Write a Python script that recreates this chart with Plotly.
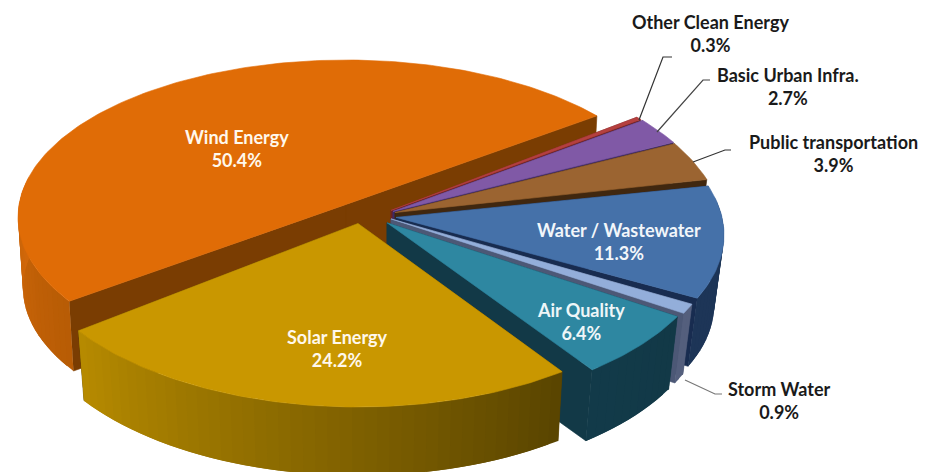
import math
import plotly.graph_objects as go

# ---------- data ----------
categories = ["Wind Energy", "Other Clean Energy", "Basic Urban Infra.", "Public transportation",
              "Water / Wastewater", "Storm Water", "Air Quality", "Solar Energy"]
values = [50.4, 0.3, 2.7, 3.9, 11.3, 0.9, 6.4, 24.2]

# ---------- style ----------
TOP = ["#E06C06", "#B5403F", "#8059A6", "#9B6431", "#4571A9", "#93AEDA", "#2E87A1", "#C99700"]
SIDE = ["#7A3D02", "#6D2222", "#3E2A66", "#40270F", "#182C50", "#4C5876", "#123947", "#5A4300"]
WALL_A = ["#B85C05", "#6D2222", "#5A3F80", "#6E4520", "#1D3557", "#545F7D", "#123947", "#5A4500"]
WALL_B = ["#D2680A", "#6D2222", "#5A3F80", "#6E4520", "#1D3557", "#545F7D", "#123A49", "#B68A00"]

# ---------- 3-D look: ellipse of each exploded slice, in pixels ----------
CX = [346, 391, 393, 395, 396, 391, 387, 358]
CY = [217, 229, 230, 232, 235, 237, 238, 233]
RX = [328, 328, 328, 328, 328, 328, 328, 338]
RY = [157, 169, 169, 169, 160, 169, 169, 174]
PERSP = [-0.08, -0.11, -0.11, -0.115, -0.11, -0.107, -0.09, -0.055]
DEPTH = [71, 70, 70, 70, 70, 72, 75, 72]
BOTTOM_SCALE = [0.985, 0.97, 0.97, 0.97, 0.97, 0.97, 0.97, 0.98]
WIND_END_DEG = -36.5                    # where the first slice ends, clockwise on screen
TWEAK_A0 = [1.5, 0, 0, 0, 0, 0, 0, -0.5]    # small visual corrections to the slice edges, degrees
TWEAK_A1 = [0, 0, 0, 0, 0, 0, -0.8, 1.0]


def project(i, theta, r=1.0, bottom=False):
    s = PERSP[i]
    u, v = r * math.cos(theta), r * math.sin(theta)
    d = 1 + s * v
    xn = u * math.sqrt(1 - s * s) / d
    yn = (v + s) / d
    scale = BOTTOM_SCALE[i] if bottom else 1.0
    return (CX[i] + RX[i] * scale * xn,
            CY[i] + (DEPTH[i] if bottom else 0) + RY[i] * scale * yn)


def mix(a, b, t):
    ca = [int(a[k:k + 2], 16) for k in (1, 3, 5)]
    cb = [int(b[k:k + 2], 16) for k in (1, 3, 5)]
    return "#%02X%02X%02X" % tuple(round(x + (y - x) * t) for x, y in zip(ca, cb))


fig = go.Figure()


def poly(points, color, width=0.6):
    xs = [p[0] for p in points] + [points[0][0]]
    ys = [p[1] for p in points] + [points[0][1]]
    fig.add_trace(go.Scatter(x=xs, y=ys, mode="lines", fill="toself", fillcolor=color,
                             line=dict(color=color, width=width), hoverinfo="skip", showlegend=False))


total = sum(values)
angle = math.radians(WIND_END_DEG) - 2 * math.pi * values[0] / total
for i, val in enumerate(values):
    a0 = angle + math.radians(TWEAK_A0[i])
    angle += 2 * math.pi * val / total
    a1 = angle + math.radians(TWEAK_A1[i])
    # side walls
    for edge in (a0, a1):
        poly([project(i, edge, 0), project(i, edge), project(i, edge, 1, True), project(i, edge, 0, True)], SIDE[i])
    # outer wall, only the part that faces the viewer, in overlapping shaded strips
    n = max(2, int(math.degrees(a1 - a0) / 2))
    grid = [a0 + (a1 - a0) * k / n for k in range(n + 1)]
    vis = [k for k in range(n) if math.sin((grid[k] + grid[k + 1]) / 2) > -0.15]
    for pos, k in enumerate(vis):
        t = pos / max(1, len(vis) - 1)
        end = grid[min(k + 2, n)]
        poly([project(i, grid[k]), project(i, grid[k + 1]), project(i, end),
              project(i, end, 1, True), project(i, grid[k + 1], 1, True), project(i, grid[k], 1, True)],
             mix(WALL_A[i], WALL_B[i], t), width=0)
    # top face
    m = max(4, int(math.degrees(a1 - a0)))
    arc = [project(i, a0 + (a1 - a0) * k / m) for k in range(m + 1)]
    poly([project(i, a0, 0)] + arc, TOP[i])

# ---------- leader lines (page pixels) ----------
LEADERS = [
    ([639, 663, 672], [120, 57, 57], "#333333"),
    ([657, 703, 710], [132, 80, 80], "#444444"),
    ([693, 725, 731], [162, 150, 150], "#333333"),
    ([685, 715, 722], [380, 394, 394], "#777777"),
]
for xs, ys, c in LEADERS:
    fig.add_trace(go.Scatter(x=xs, y=ys, mode="lines", line=dict(color=c, width=1.2),
                             hoverinfo="skip", showlegend=False))

# ---------- labels ----------
LABEL_POS = [(237, 148), (710, 33), (788, 86), (833, 153), (619, 241), (779, 400), (581, 321), (337, 348)]
LABEL_COL = ["#FFF8EC", "#1A1A1A", "#1A1A1A", "#1A1A1A", "#F2F6FA", "#1A1A1A", "#EEF6F8", "#FFF8EC"]
annotations = []
for name, v, (lx, ly), col in zip(categories, values, LABEL_POS, LABEL_COL):
    annotations.append(dict(x=lx, y=ly, xref="x", yref="y", showarrow=False, align="center",
                            text=f"<b>{name}</b><br><b>{v}%</b>",
                            font=dict(family="Lato", size=18, color=col)))

fig.update_layout(
    width=925, height=472, margin=dict(l=0, r=0, t=0, b=0),
    paper_bgcolor="white", plot_bgcolor="white", showlegend=False,
    xaxis=dict(range=[0, 925], visible=False, fixedrange=True),
    yaxis=dict(range=[472, 0], visible=False, fixedrange=True),
    annotations=annotations,
)
fig.write_html("out.html", config={"displayModeBar": False},
               post_script="document.body.style.margin='0';document.body.style.overflow='hidden';")
